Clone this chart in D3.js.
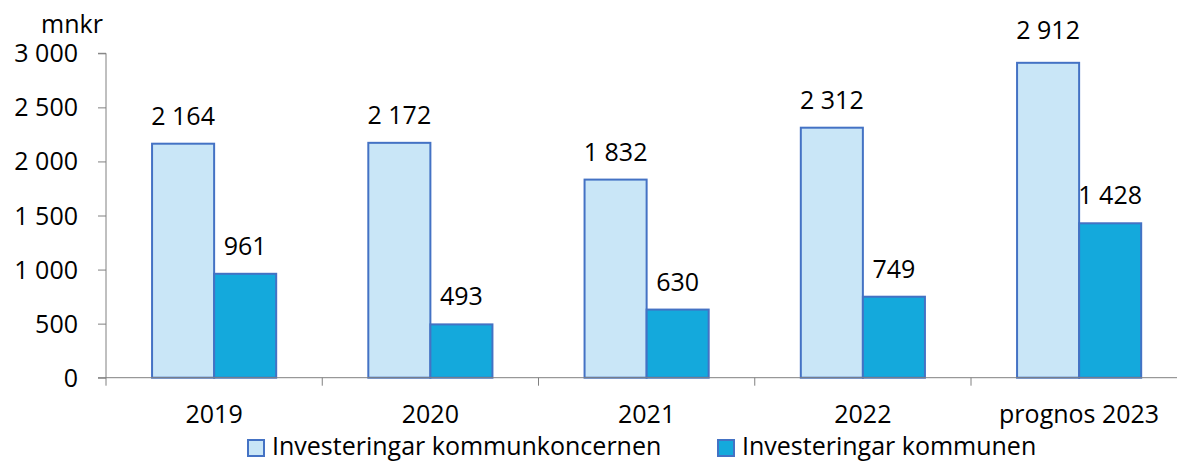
<!DOCTYPE html>
<html lang="sv">
<head>
    <meta charset="UTF-8">
    <title>Investeringar</title>
    <script src="https://d3js.org/d3.v7.min.js"></script>
    <style>
        body { margin: 0; background: #fff; }
        text { font-family: "Open Sans", "Noto Sans", sans-serif; fill: #000; }
    </style>
</head>
<body>
    <div id="chart"></div>

    <script>
        // Data
        const years = ["2019", "2020", "2021", "2022", "prognos 2023"];
        const koncernen = [2164, 2172, 1832, 2312, 2912];
        const kommunen = [961, 493, 630, 749, 1428];
        const seriesNames = ["Investeringar kommunkoncernen", "Investeringar kommunen"];
        const yTicks = [0, 500, 1000, 1500, 2000, 2500, 3000];

        const width = 1177, height = 463;
        const colors = ["#C9E6F7", "#14A9DC"];
        const strokeColor = "#4472C4";
        const fs = 25;

        const fmt = v => d3.format(",")(v).replace(/,/g, " ");

        const svg = d3.select("#chart")
            .append("svg")
            .attr("width", width)
            .attr("height", height);

        const x0 = 106, step = 216.25;
        const x = d3.scaleBand()
            .domain(years)
            .range([x0, x0 + step * years.length])
            .paddingInner(0.426)
            .paddingOuter(0.213);

        const xSub = d3.scaleBand()
            .domain([0, 1])
            .range([0, x.bandwidth()]);

        const y = d3.scaleLinear()
            .domain([0, 3000])
            .range([377.7, 53.3]);

        // y axis
        const yAxis = svg.append("g")
            .attr("transform", `translate(${x0},0)`)
            .call(d3.axisLeft(y).tickValues(yTicks).tickFormat(fmt).tickSize(8).tickPadding(20));
        yAxis.select(".domain").attr("stroke", "#808080").attr("d", `M-8,${y(3000)}H0V${y(0) + 8}`);
        yAxis.selectAll(".tick line").attr("stroke", "#808080");
        yAxis.selectAll(".tick text").attr("font-size", fs).attr("dy", "0.34em");

        svg.append("text")
            .attr("x", 72)
            .attr("y", 33)
            .attr("text-anchor", "middle")
            .attr("font-size", fs)
            .text("mnkr");

        // bars
        const groups = svg.append("g")
            .selectAll("g")
            .data(years)
            .join("g")
            .attr("transform", d => `translate(${x(d)},0)`);

        const barData = (d, i) => [
            { s: 0, v: koncernen[i] },
            { s: 1, v: kommunen[i] }
        ];

        groups.selectAll("rect")
            .data(barData)
            .join("rect")
            .attr("x", d => xSub(d.s))
            .attr("y", d => y(d.v))
            .attr("width", xSub.bandwidth())
            .attr("height", d => y(0) - y(d.v))
            .attr("fill", d => colors[d.s])
            .attr("stroke", strokeColor)
            .attr("stroke-width", 2);

        groups.selectAll("text.val")
            .data(barData)
            .join("text")
            .attr("class", "val")
            .attr("x", d => xSub(d.s) + xSub.bandwidth() / 2)
            .attr("y", d => y(d.v) - (d.v > 2800 ? 24 : 19))
            .attr("text-anchor", "middle")
            .attr("font-size", fs)
            .text(d => fmt(d.v));

        // x axis
        const xAxis = svg.append("g");
        xAxis.append("line")
            .attr("x1", x0 - 8).attr("x2", width)
            .attr("y1", y(0)).attr("y2", y(0))
            .attr("stroke", "#808080");
        xAxis.selectAll("line.tk")
            .data(years.slice(1))
            .join("line")
            .attr("class", "tk")
            .attr("x1", d => x(d) - x.step() * 0.213)
            .attr("x2", d => x(d) - x.step() * 0.213)
            .attr("y1", y(0)).attr("y2", y(0) + 8)
            .attr("stroke", "#808080");
        xAxis.selectAll("text")
            .data(years)
            .join("text")
            .attr("x", d => x(d) + x.bandwidth() / 2)
            .attr("y", 423)
            .attr("text-anchor", "middle")
            .attr("font-size", fs)
            .text(d => d);

        // legend
        const legendX = [248, 718];
        const legend = svg.append("g")
            .selectAll("g")
            .data(seriesNames)
            .join("g")
            .attr("transform", (d, i) => `translate(${legendX[i]},440)`);
        legend.append("rect")
            .attr("width", 16).attr("height", 16)
            .attr("fill", (d, i) => colors[i])
            .attr("stroke", strokeColor)
            .attr("stroke-width", 2);
        legend.append("text")
            .attr("x", 24)
            .attr("y", 15)
            .attr("font-size", fs)
            .text(d => d);
    </script>
</body>
</html>
